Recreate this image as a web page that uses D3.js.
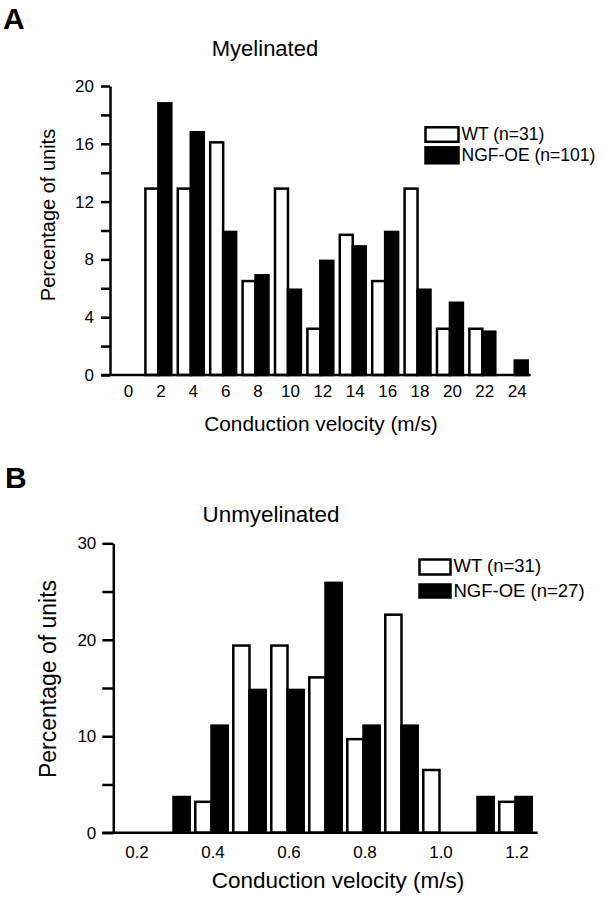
<!DOCTYPE html>
<html>
<head>
<meta charset="utf-8">
<script src="https://cdn.jsdelivr.net/npm/d3@7"></script>
<style>
  html, body { margin: 0; padding: 0; background: #fff; }
  svg { display: block; font-family: "Liberation Sans", Arial, Helvetica, sans-serif; }
</style>
</head>
<body>
<svg id="chart" width="606" height="900"></svg>
<script>
// ---------- Data ----------
const seriesNames = ["WT", "NGF-OE"];

// Panel A: Myelinated
const catsA = ["0","2","4","6","8","10","12","14","16","18","20","22","24"];
const wtA   = [0, 12.9, 12.9, 16.1, 6.5, 12.9, 3.2, 9.7, 6.5, 12.9, 3.2, 3.2, 0];
const ngfA  = [0, 18.8, 16.8, 9.9, 6.9, 5.9, 7.9, 8.9, 9.9, 5.9, 5.0, 3.0, 1.0];
const yTicksA = [0,2,4,6,8,10,12,14,16,18,20];
const yLabelsA = [0,4,8,12,16,20];
const legendA = ["WT (n=31)", "NGF-OE (n=101)"];

// Panel B: Unmyelinated
const catsB = ["0.2","0.3","0.4","0.5","0.6","0.7","0.8","0.9","1.0","1.1","1.2"];
const wtB   = [0, 0, 3.2, 19.4, 19.4, 16.1, 9.7, 22.6, 6.5, 0, 3.2];
const ngfB  = [0, 3.7, 11.1, 14.8, 14.8, 25.9, 11.1, 11.1, 0, 3.7, 3.7];
const xLabelsB = ["0.2","0.4","0.6","0.8","1.0","1.2"];
const yTicksB = [0,5,10,15,20,25,30];
const yLabelsB = [0,10,20,30];
const legendB = ["WT (n=31)", "NGF-OE (n=27)"];

const svg = d3.select("#chart");
const fills = ["#ffffff", "#000000"];
const SW = 2.5;

function drawPanel(cfg) {
  const g = svg.append("g");
  const x = d3.scaleBand().domain(cfg.cats).range([cfg.x0, cfg.x1])
    .paddingInner(cfg.pi).paddingOuter(cfg.po);
  const xi = d3.scaleBand().domain(seriesNames).range([0, x.bandwidth()]);
  const y = d3.scaleLinear().domain(cfg.yDomain).range([cfg.y0, cfg.yTop]);

  // bars
  const rows = cfg.cats.map((c, i) => ({c, vals: [cfg.wt[i], cfg.ngf[i]]}));
  const grp = g.selectAll("g.bin").data(rows).join("g")
    .attr("transform", d => `translate(${x(d.c)},0)`);
  grp.selectAll("rect").data(d => d.vals.map((v, k) => ({v, k})))
    .join("rect")
    .attr("x", d => xi(seriesNames[d.k]))
    .attr("width", xi.bandwidth())
    .attr("y", d => y(d.v))
    .attr("height", d => y(0) - y(d.v))
    .attr("fill", d => fills[d.k])
    .attr("stroke", "#000")
    .attr("stroke-width", SW);

  // y axis
  const ya = d3.axisLeft(y).tickValues(cfg.yTicks).tickSize(cfg.tickLen).tickSizeOuter(0)
    .tickPadding(cfg.tickPad)
    .tickFormat(d => cfg.yLabels.includes(d) ? d : "");
  const yag = g.append("g").attr("transform", `translate(${cfg.x0},0)`).call(ya);
  yag.selectAll("path, line").attr("stroke", "#000").attr("stroke-width", SW);
  yag.selectAll("text").attr("font-size", cfg.tickFs).attr("fill", "#000")
    .attr("font-family", "Liberation Sans, Arial, sans-serif");

  // x baseline
  g.append("line").attr("x1", cfg.x0 - cfg.tickLen).attr("x2", cfg.x1)
    .attr("y1", y(0)).attr("y2", y(0)).attr("stroke", "#000").attr("stroke-width", SW);

  // x labels
  g.selectAll("text.xl").data(cfg.xLabels).join("text")
    .attr("class", "xl")
    .attr("x", d => x(d) + x.bandwidth() / 2 + cfg.labOff)
    .attr("y", cfg.xLabY)
    .attr("text-anchor", "middle")
    .attr("font-size", cfg.tickFs)
    .text(d => d);

  // titles
  g.append("text").attr("x", cfg.titleX).attr("y", cfg.titleY).attr("text-anchor", "middle")
    .attr("font-size", cfg.titleFs).text(cfg.title);
  g.append("text").attr("x", cfg.xTitleX).attr("y", cfg.xTitleY).attr("text-anchor", "middle")
    .attr("font-size", cfg.xTitleFs).text("Conduction velocity (m/s)");
  g.append("text").attr("transform", `translate(${cfg.yTitleX},${cfg.yTitleY}) rotate(-90)`)
    .attr("text-anchor", "middle").attr("font-size", cfg.yTitleFs).text("Percentage of units");
  g.append("text").attr("x", cfg.letterX).attr("y", cfg.letterY).attr("font-size", 30)
    .attr("font-weight", "bold").text(cfg.letter);

  // legend
  cfg.legend.forEach((t, k) => {
    const lg = g.append("g");
    lg.append("rect").attr("x", cfg.legX).attr("y", cfg.legY[k])
      .attr("width", cfg.legW).attr("height", cfg.legH[k])
      .attr("fill", fills[k]).attr("stroke", "#000").attr("stroke-width", SW);
    lg.append("text").attr("x", cfg.legX + cfg.legW + 3).attr("y", cfg.legTY[k])
      .attr("font-size", cfg.legFs).text(t);
  });
}

drawPanel({
  cats: catsA, wt: wtA, ngf: ngfA, xLabels: catsA,
  x0: 110, x1: 530.7, pi: 0.2, po: 0.093,
  yDomain: [0, 20], y0: 375, yTop: 86,
  yTicks: yTicksA, yLabels: yLabelsA, tickLen: 9, tickPad: 7, tickFs: 17,
  labOff: 2.5, xLabY: 396.5,
  title: "Myelinated", titleX: 265, titleY: 56, titleFs: 22,
  xTitleX: 321, xTitleY: 431, xTitleFs: 20.8,
  yTitleX: 55, yTitleY: 215, yTitleFs: 20,
  letter: "A", letterX: 3, letterY: 29,
  legend: legendA, legX: 425.5, legY: [127.3, 147.3], legW: 33, legH: [14.5, 16],
  legTY: [139.5, 161], legFs: 17.5
});

drawPanel({
  cats: catsB, wt: wtB, ngf: ngfB, xLabels: xLabelsB,
  x0: 113.3, x1: 537.7, pi: 0.147, po: 0.158,
  yDomain: [0, 30], y0: 832.7, yTop: 543.3,
  yTicks: yTicksB, yLabels: yLabelsB, tickLen: 11, tickPad: 6, tickFs: 17,
  labOff: 1.5, xLabY: 858,
  title: "Unmyelinated", titleX: 271, titleY: 522, titleFs: 22.4,
  xTitleX: 338, xTitleY: 888, xTitleFs: 22.5,
  yTitleX: 56, yTitleY: 679, yTitleFs: 23,
  letter: "B", letterX: 5, letterY: 488,
  legend: legendB, legX: 419.5, legY: [559.5, 584.5], legW: 31, legH: [15, 13],
  legTY: [572, 597], legFs: 18.5
});
</script>
</body>
</html>
